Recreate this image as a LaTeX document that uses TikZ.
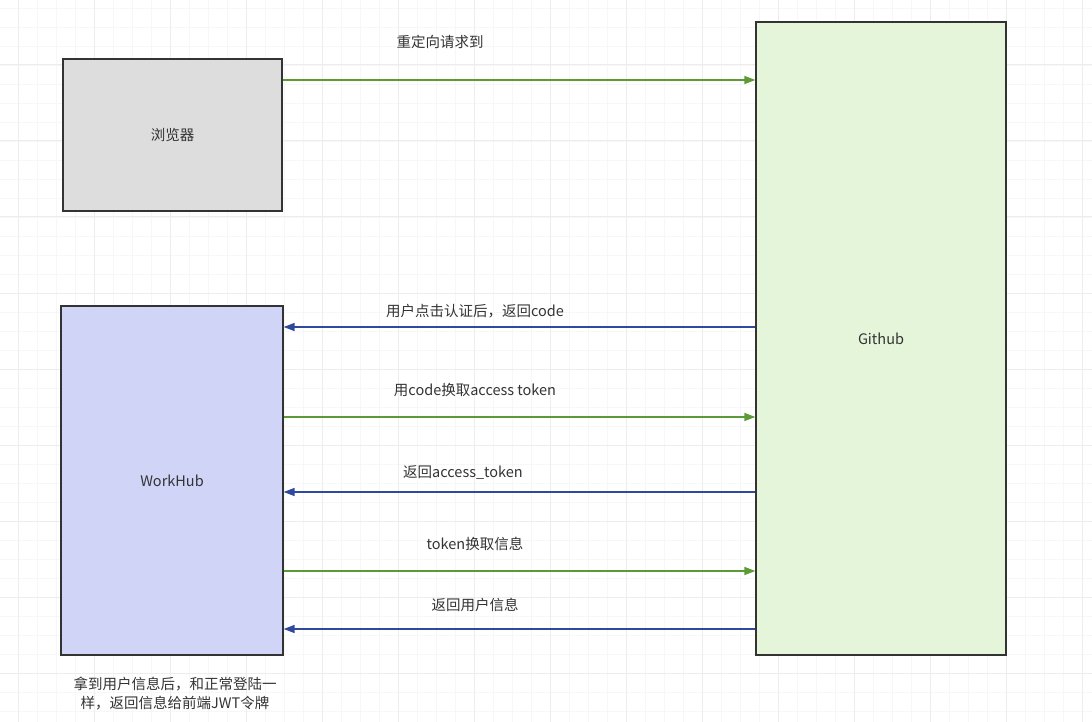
\documentclass[tikz,border=0pt]{standalone}
\usepackage{fontspec}
\newfontfamily\cjk{Noto Sans CJK SC}
\usetikzlibrary{arrows.meta}
\definecolor{gmin}{HTML}{F7F7F7}
\definecolor{gmaj}{HTML}{EDEDED}
\definecolor{gre}{HTML}{5C9A35}
\definecolor{blu}{HTML}{2F4A9C}
\definecolor{fb}{HTML}{DDDDDD}
\definecolor{fw}{HTML}{D0D5F8}
\definecolor{fg}{HTML}{E4F5DA}
\tikzset{box/.style={draw=black!80,line width=1.3pt,inner sep=0pt},
 ga/.style={draw=gre,line width=1.4pt,-{Triangle[length=11pt,width=8pt]}},
 ba/.style={draw=blu,line width=1.4pt,-{Triangle[length=11pt,width=8pt]}},
 lbl/.style={font=\cjk\fontsize{14.5}{19}\selectfont,text=black!80}}
\begin{document}
\begin{tikzpicture}[x=1pt,y=-1pt]
\useasboundingbox (0,0) rectangle (1092,722);
\foreach \i in {-1,...,58}{\draw[gmin,line width=0.8pt] ({18+19*\i},0) -- ({18+19*\i},722);}
\foreach \i in {-4,...,38}{\draw[gmin,line width=0.8pt] (0,{65+19*\i}) -- (1092,{65+19*\i});}
\foreach \i in {0,...,14}{\draw[gmaj,line width=1pt] ({18+76*\i},0) -- ({18+76*\i},722);}
\foreach \i in {-1,...,9}{\draw[gmaj,line width=1pt] (0,{65+76*\i}) -- (1092,{65+76*\i});}
\node[box,fill=fb,minimum width=219pt,minimum height=152pt,lbl] (b) at (172.5,135) {浏览器};
\node[box,fill=fw,minimum width=222pt,minimum height=349pt,lbl] (w) at (172,480.5) {WorkHub};
\node[box,fill=fg,minimum width=250pt,minimum height=633pt,lbl] (g) at (881,338.5) {Github};
\draw[ga] (b.east|-0,80) -- (g.west|-0,80);
\draw[ba] (g.west|-0,327) -- (w.east|-0,327);
\draw[ga] (w.east|-0,417) -- (g.west|-0,417);
\draw[ba] (g.west|-0,492) -- (w.east|-0,492);
\draw[ga] (w.east|-0,571) -- (g.west|-0,571);
\draw[ba] (g.west|-0,629) -- (w.east|-0,629);
\node[lbl] (t1) at (440,42) {重定向请求到};
\node[lbl] (t2) at (475,311) {用户点击认证后，返回code};
\node[lbl] (t3) at (475,390) {用code换取access token};
\node[lbl] (t4) at (463,473) {返回access\_token};
\node[lbl] (t5) at (475,544) {token换取信息};
\node[lbl] (t6) at (475,605) {返回用户信息};
\node[lbl,align=center] (n) at (175,694) {拿到用户信息后，和正常登陆一\\样，返回信息给前端JWT令牌};
\end{tikzpicture}
\end{document}
